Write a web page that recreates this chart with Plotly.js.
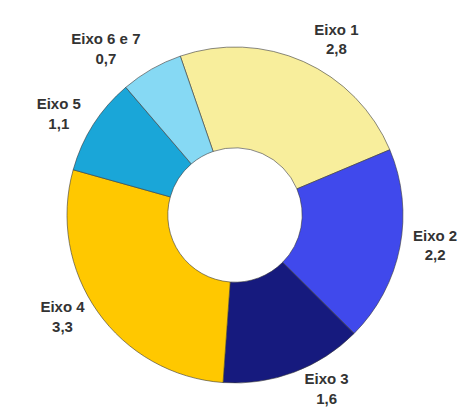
<!DOCTYPE html>
<html>
<head>
<meta charset="utf-8">
<script src="https://cdn.plot.ly/plotly-3.0.1.min.js"></script>
<style>html,body{margin:0;padding:0;background:#fff;}#chart{width:473px;height:410px;}</style>
</head>
<body>
<div id="chart"></div>
<script>
const categories = ["Eixo 1", "Eixo 2", "Eixo 3", "Eixo 4", "Eixo 5", "Eixo 6 e 7"];
const values = [2.8, 2.2, 1.6, 3.3, 1.1, 0.7];
const colors = ["#F8EE9C", "#4049EC", "#161A7E", "#FFC800", "#1AA6D8", "#86D9F4"];

const ring = {
  type: "pie",
  labels: categories,
  values: values,
  hole: 0.4,
  sort: false,
  direction: "clockwise",
  rotation: -19,
  domain: { x: [0.1416, 0.852], y: [0.0659, 0.8854] },
  marker: { colors: colors, line: { color: "#3a3a3a", width: 0.6 } },
  textinfo: "none",
  automargin: false,
  showlegend: false,
  hoverinfo: "label+value"
};

// transparent, slightly larger copy that only carries the outside labels
const labelRing = {
  type: "pie",
  labels: categories,
  values: values,
  hole: 0.9,
  sort: false,
  direction: "clockwise",
  rotation: -19,
  domain: { x: [0.1332, 0.8605], y: [0.065, 0.904] },
  marker: { colors: categories.map(() => "rgba(0,0,0,0)"), line: { width: 0 } },
  texttemplate: "%{label}<br>%{value:.1f}",
  textposition: "outside",
  textfont: { family: "Liberation Sans Narrow, Arial Narrow, sans-serif", size: 15, color: "#333", weight: "bold" },
  automargin: false,
  showlegend: false,
  hoverinfo: "skip"
};

const layout = {
  width: 473,
  height: 410,
  margin: { l: 0, r: 0, t: 0, b: 0 },
  paper_bgcolor: "#fff",
  plot_bgcolor: "#fff",
  separators: ",.",
  showlegend: false
};

Plotly.newPlot("chart", [ring, labelRing], layout, { displayModeBar: false, staticPlot: true });
</script>
</body>
</html>
